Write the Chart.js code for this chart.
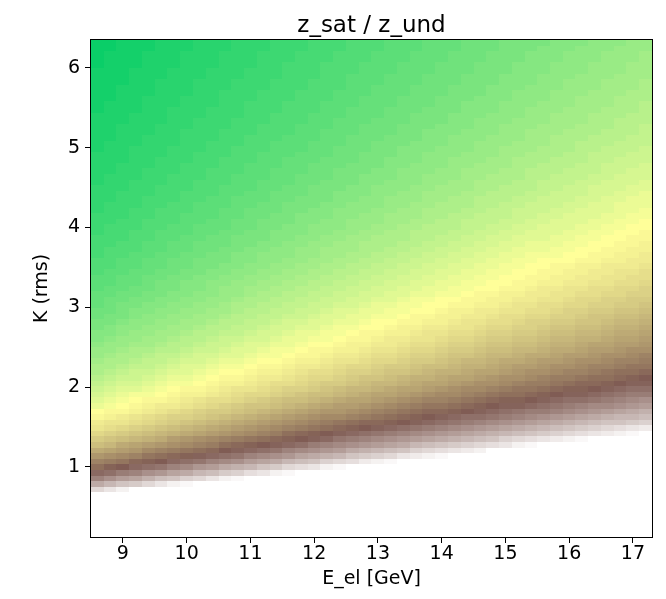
<!DOCTYPE html>
<html>
<head>
<meta charset="utf-8">
<script src="https://cdn.jsdelivr.net/npm/chart.js@4.4.1/dist/chart.umd.min.js"></script>
<style>
  html, body { margin: 0; padding: 0; background: #fff; }
</style>
</head>
<body>
<canvas id="heat" width="666" height="599"></canvas>
<script>
// column centres, electron energy [GeV]
const eEl = [8.6, 8.8, 9.0, 9.2, 9.4, 9.6, 9.8, 10.0, 10.2, 10.4, 10.6, 10.8, 11.0, 11.2, 11.4,
  11.6, 11.8, 12.0, 12.2, 12.4, 12.6, 12.8, 13.0, 13.2, 13.4, 13.6, 13.8, 14.0, 14.2, 14.4,
  14.6, 14.8, 15.0, 15.2, 15.4, 15.6, 15.8, 16.0, 16.2, 16.4, 16.6, 16.8, 17.0, 17.2];

// row centres, K (rms)
const kRms = [0.155, 0.225, 0.295, 0.365, 0.435, 0.505, 0.575, 0.645, 0.715, 0.785,
  0.855, 0.925, 0.995, 1.065, 1.135, 1.205, 1.275, 1.345, 1.415, 1.485,
  1.555, 1.625, 1.695, 1.765, 1.835, 1.905, 1.975, 2.045, 2.115, 2.185,
  2.255, 2.325, 2.395, 2.465, 2.535, 2.605, 2.675, 2.745, 2.815, 2.885,
  2.955, 3.025, 3.095, 3.165, 3.235, 3.305, 3.375, 3.445, 3.515, 3.585,
  3.655, 3.725, 3.795, 3.865, 3.935, 4.005, 4.075, 4.145, 4.215, 4.285,
  4.355, 4.425, 4.495, 4.565, 4.635, 4.705, 4.775, 4.845, 4.915, 4.985,
  5.055, 5.125, 5.195, 5.265, 5.335, 5.405, 5.475, 5.545, 5.615, 5.685,
  5.755, 5.825, 5.895, 5.965, 6.035, 6.105, 6.175, 6.245, 6.315];

const xTicks = [9, 10, 11, 12, 13, 14, 15, 16, 17];
const yTicks = [1, 2, 3, 4, 5, 6];

// z_sat / z_und in percent, one row per K (bottom row first), left to right in E_el.
// a row ends where the beam does not saturate inside the undulator (left blank)
const zRatioPct = [
  [], [], [], [], [], [], [], [],
  [94,96,98],
  [87,89,91,92,94,96,98,99],
  [81,83,85,86,88,90,91,93,94,96,98,99],
  [77,78,80,81,83,84,86,87,89,90,92,93,95,96,98,99],
  [72,74,75,77,78,79,81,82,84,85,87,88,89,91,92,94,95,96,98,99],
  [69,70,71,73,74,75,77,78,79,81,82,83,85,86,87,89,90,91,93,94,95,97,98,99],
  [66,67,68,69,71,72,73,74,76,77,78,79,81,82,83,84,86,87,88,89,91,92,93,94,96,97,98,99],
  [63,64,65,66,68,69,70,71,72,73,75,76,77,78,79,81,82,83,84,85,87,88,89,90,91,93,94,95,96,97,98],
  [60,61,63,64,65,66,67,68,69,70,72,73,74,75,76,77,78,80,81,82,83,84,85,86,87,89,90,91,92,93,94,95,96,98,99],
  [58,59,60,61,62,63,65,66,67,68,69,70,71,72,73,74,75,76,77,79,80,81,82,83,84,85,86,87,88,89,90,91,93,94,95,96,97,98,99],
  [56,57,58,59,60,61,62,63,64,65,66,67,68,69,70,72,73,74,75,76,77,78,79,80,81,82,83,84,85,86,87,88,89,90,91,92,93,94,95,96,97,98,99],
  [54,55,56,57,58,59,60,61,62,63,64,65,66,67,68,69,70,71,72,73,74,75,76,77,78,79,80,81,82,83,84,85,86,87,88,89,90,91,92,93,94,95,96,97],
  [53,54,54,55,56,57,58,59,60,61,62,63,64,65,66,67,68,69,70,71,72,73,73,74,75,76,77,78,79,80,81,82,83,84,85,86,87,88,89,90,91,91,92,93],
  [51,52,53,54,55,56,57,57,58,59,60,61,62,63,64,65,66,67,68,68,69,70,71,72,73,74,75,76,77,78,78,79,80,81,82,83,84,85,86,87,88,89,89,90],
  [50,51,51,52,53,54,55,56,57,58,58,59,60,61,62,63,64,65,66,66,67,68,69,70,71,72,73,73,74,75,76,77,78,79,80,80,81,82,83,84,85,86,87,88],
  [48,49,50,51,52,53,53,54,55,56,57,58,59,59,60,61,62,63,64,65,65,66,67,68,69,70,71,71,72,73,74,75,76,76,77,78,79,80,81,82,82,83,84,85],
  [47,48,49,50,51,51,52,53,54,55,55,56,57,58,59,60,60,61,62,63,64,64,65,66,67,68,69,69,70,71,72,73,74,74,75,76,77,78,78,79,80,81,82,83],
  [46,47,48,49,49,50,51,52,52,53,54,55,56,56,57,58,59,60,60,61,62,63,64,64,65,66,67,68,68,69,70,71,72,72,73,74,75,76,76,77,78,79,80,80],
  [45,46,47,47,48,49,50,51,51,52,53,54,54,55,56,57,57,58,59,60,61,61,62,63,64,64,65,66,67,68,68,69,70,71,71,72,73,74,74,75,76,77,78,78],
  [44,45,46,46,47,48,49,49,50,51,52,52,53,54,55,55,56,57,58,58,59,60,61,61,62,63,64,64,65,66,67,67,68,69,70,70,71,72,73,73,74,75,76,76],
  [43,44,45,45,46,47,48,48,49,50,51,51,52,53,53,54,55,56,56,57,58,59,59,60,61,62,62,63,64,64,65,66,67,67,68,69,70,70,71,72,72,73,74,75],
  [42,43,44,45,45,46,47,47,48,49,50,50,51,52,52,53,54,55,55,56,57,57,58,59,59,60,61,62,62,63,64,64,65,66,67,67,68,69,69,70,71,72,72,73],
  [42,42,43,44,44,45,46,47,47,48,49,49,50,51,51,52,53,53,54,55,56,56,57,58,58,59,60,60,61,62,62,63,64,65,65,66,67,67,68,69,69,70,71,71],
  [41,42,42,43,44,44,45,46,46,47,48,48,49,50,50,51,52,52,53,54,54,55,56,56,57,58,58,59,60,61,61,62,63,63,64,65,65,66,67,67,68,69,69,70],
  [40,41,42,42,43,44,44,45,46,46,47,47,48,49,49,50,51,51,52,53,53,54,55,55,56,57,57,58,59,59,60,61,61,62,63,63,64,65,65,66,67,67,68,69],
  [40,40,41,42,42,43,43,44,45,45,46,47,47,48,49,49,50,51,51,52,52,53,54,54,55,56,56,57,58,58,59,60,60,61,61,62,63,63,64,65,65,66,67,67],
  [39,40,40,41,41,42,43,43,44,45,45,46,47,47,48,48,49,50,50,51,52,52,53,53,54,55,55,56,57,57,58,59,59,60,60,61,62,62,63,64,64,65,65,66],
  [38,39,40,40,41,41,42,43,43,44,45,45,46,46,47,48,48,49,49,50,51,51,52,53,53,54,54,55,56,56,57,58,58,59,59,60,61,61,62,62,63,64,64,65],
  [38,38,39,40,40,41,41,42,43,43,44,44,45,46,46,47,48,48,49,49,50,51,51,52,52,53,54,54,55,55,56,57,57,58,58,59,60,60,61,61,62,63,63,64],
  [37,38,39,39,40,40,41,41,42,43,43,44,44,45,46,46,47,47,48,49,49,50,50,51,52,52,53,53,54,54,55,56,56,57,57,58,59,59,60,60,61,62,62,63],
  [37,37,38,39,39,40,40,41,41,42,43,43,44,44,45,46,46,47,47,48,48,49,50,50,51,51,52,52,53,54,54,55,55,56,57,57,58,58,59,59,60,61,61,62],
  [36,37,37,38,39,39,40,40,41,41,42,43,43,44,44,45,45,46,47,47,48,48,49,49,50,51,51,52,52,53,53,54,55,55,56,56,57,57,58,59,59,60,60,61],
  [36,36,37,38,38,39,39,40,40,41,41,42,43,43,44,44,45,45,46,47,47,48,48,49,49,50,50,51,52,52,53,53,54,54,55,55,56,57,57,58,58,59,59,60],
  [35,36,37,37,38,38,39,39,40,40,41,42,42,43,43,44,44,45,45,46,46,47,48,48,49,49,50,50,51,51,52,52,53,54,54,55,55,56,56,57,57,58,58,59],
  [35,36,36,37,37,38,38,39,39,40,40,41,42,42,43,43,44,44,45,45,46,46,47,47,48,49,49,50,50,51,51,52,52,53,53,54,54,55,56,56,57,57,58,58],
  [35,35,36,36,37,37,38,38,39,39,40,40,41,42,42,43,43,44,44,45,45,46,46,47,47,48,48,49,49,50,51,51,52,52,53,53,54,54,55,55,56,56,57,57],
  [34,35,35,36,36,37,37,38,38,39,40,40,41,41,42,42,43,43,44,44,45,45,46,46,47,47,48,48,49,49,50,50,51,51,52,53,53,54,54,55,55,56,56,57],
  [34,34,35,35,36,37,37,38,38,39,39,40,40,41,41,42,42,43,43,44,44,45,45,46,46,47,47,48,48,49,49,50,50,51,51,52,52,53,53,54,54,55,55,56],
  [34,34,35,35,36,36,37,37,38,38,39,39,40,40,41,41,42,42,43,43,44,44,45,45,46,46,47,47,48,48,49,49,50,50,51,51,52,52,53,53,54,54,55,55],
  [33,34,34,35,35,36,36,37,37,38,38,39,39,40,40,41,41,42,42,43,43,44,44,45,45,46,46,47,47,48,48,49,49,50,50,51,51,52,52,53,53,54,54,55],
  [33,33,34,34,35,35,36,36,37,37,38,38,39,39,40,40,41,41,42,42,43,43,44,44,45,45,46,46,47,47,48,48,49,49,50,50,51,51,52,52,53,53,53,54],
  [33,33,34,34,35,35,36,36,37,37,37,38,38,39,39,40,40,41,41,42,42,43,43,44,44,45,45,46,46,47,47,48,48,49,49,50,50,50,51,51,52,52,53,53],
  [32,33,33,34,34,35,35,36,36,37,37,38,38,39,39,39,40,40,41,41,42,42,43,43,44,44,45,45,46,46,47,47,48,48,49,49,49,50,50,51,51,52,52,53],
  [32,33,33,33,34,34,35,35,36,36,37,37,38,38,39,39,40,40,41,41,41,42,42,43,43,44,44,45,45,46,46,47,47,48,48,48,49,49,50,50,51,51,52,52],
  [32,32,33,33,34,34,35,35,36,36,36,37,37,38,38,39,39,40,40,41,41,42,42,42,43,43,44,44,45,45,46,46,47,47,48,48,48,49,49,50,50,51,51,52],
  [32,32,32,33,33,34,34,35,35,36,36,37,37,37,38,38,39,39,40,40,41,41,42,42,42,43,43,44,44,45,45,46,46,47,47,47,48,48,49,49,50,50,51,51],
  [31,32,32,33,33,34,34,34,35,35,36,36,37,37,38,38,38,39,39,40,40,41,41,42,42,43,43,43,44,44,45,45,46,46,47,47,47,48,48,49,49,50,50,51],
  [31,32,32,32,33,33,34,34,35,35,35,36,36,37,37,38,38,39,39,39,40,40,41,41,42,42,43,43,43,44,44,45,45,46,46,47,47,47,48,48,49,49,50,50],
  [31,31,32,32,33,33,33,34,34,35,35,36,36,37,37,37,38,38,39,39,40,40,40,41,41,42,42,43,43,44,44,44,45,45,46,46,47,47,47,48,48,49,49,50],
  [31,31,31,32,32,33,33,34,34,34,35,35,36,36,37,37,38,38,38,39,39,40,40,41,41,41,42,42,43,43,44,44,44,45,45,46,46,47,47,47,48,48,49,49],
  [30,31,31,32,32,33,33,33,34,34,35,35,36,36,36,37,37,38,38,39,39,39,40,40,41,41,42,42,42,43,43,44,44,45,45,45,46,46,47,47,47,48,48,49],
  [30,31,31,31,32,32,33,33,34,34,34,35,35,36,36,37,37,37,38,38,39,39,39,40,40,41,41,42,42,42,43,43,44,44,45,45,45,46,46,47,47,48,48,48],
  [30,30,31,31,32,32,32,33,33,34,34,35,35,35,36,36,37,37,37,38,38,39,39,40,40,40,41,41,42,42,43,43,43,44,44,45,45,45,46,46,47,47,48,48],
  [30,30,31,31,31,32,32,33,33,33,34,34,35,35,36,36,36,37,37,38,38,38,39,39,40,40,41,41,41,42,42,43,43,43,44,44,45,45,45,46,46,47,47,48],
  [30,30,30,31,31,32,32,32,33,33,34,34,34,35,35,36,36,37,37,37,38,38,39,39,39,40,40,41,41,41,42,42,43,43,43,44,44,45,45,46,46,46,47,47],
  [29,30,30,31,31,31,32,32,33,33,33,34,34,35,35,35,36,36,37,37,37,38,38,39,39,39,40,40,41,41,42,42,42,43,43,44,44,44,45,45,46,46,46,47],
  [29,30,30,30,31,31,32,32,32,33,33,34,34,34,35,35,36,36,36,37,37,38,38,38,39,39,40,40,40,41,41,42,42,42,43,43,44,44,44,45,45,46,46,46],
  [29,29,30,30,31,31,31,32,32,33,33,33,34,34,35,35,35,36,36,37,37,37,38,38,39,39,39,40,40,41,41,41,42,42,43,43,43,44,44,44,45,45,46,46],
  [29,29,30,30,30,31,31,32,32,32,33,33,34,34,34,35,35,36,36,36,37,37,37,38,38,39,39,39,40,40,41,41,41,42,42,43,43,43,44,44,45,45,45,46],
  [29,29,29,30,30,31,31,31,32,32,33,33,33,34,34,35,35,35,36,36,36,37,37,38,38,38,39,39,40,40,40,41,41,42,42,42,43,43,43,44,44,45,45,45],
  [29,29,29,30,30,30,31,31,32,32,32,33,33,34,34,34,35,35,35,36,36,37,37,37,38,38,39,39,39,40,40,40,41,41,42,42,42,43,43,44,44,44,45,45],
  [28,29,29,30,30,30,31,31,31,32,32,33,33,33,34,34,34,35,35,36,36,36,37,37,38,38,38,39,39,39,40,40,41,41,41,42,42,42,43,43,44,44,44,45],
  [28,29,29,29,30,30,30,31,31,32,32,32,33,33,34,34,34,35,35,35,36,36,37,37,37,38,38,38,39,39,40,40,40,41,41,41,42,42,43,43,43,44,44,44],
  [28,28,29,29,30,30,30,31,31,31,32,32,33,33,33,34,34,34,35,35,36,36,36,37,37,37,38,38,39,39,39,40,40,40,41,41,42,42,42,43,43,43,44,44],
  [28,28,29,29,29,30,30,31,31,31,32,32,32,33,33,33,34,34,35,35,35,36,36,36,37,37,38,38,38,39,39,39,40,40,41,41,41,42,42,42,43,43,43,44],
  [28,28,29,29,29,30,30,30,31,31,31,32,32,33,33,33,34,34,34,35,35,36,36,36,37,37,37,38,38,38,39,39,40,40,40,41,41,41,42,42,42,43,43,44],
  [28,28,28,29,29,29,30,30,31,31,31,32,32,32,33,33,33,34,34,35,35,35,36,36,36,37,37,37,38,38,39,39,39,40,40,40,41,41,41,42,42,43,43,43],
  [28,28,28,29,29,29,30,30,30,31,31,31,32,32,33,33,33,34,34,34,35,35,35,36,36,37,37,37,38,38,38,39,39,39,40,40,41,41,41,42,42,42,43,43],
  [27,28,28,28,29,29,30,30,30,31,31,31,32,32,32,33,33,33,34,34,35,35,35,36,36,36,37,37,37,38,38,38,39,39,40,40,40,41,41,41,42,42,42,43],
  [27,28,28,28,29,29,29,30,30,30,31,31,32,32,32,33,33,33,34,34,34,35,35,35,36,36,36,37,37,38,38,38,39,39,39,40,40,40,41,41,41,42,42,43],
  [27,27,28,28,29,29,29,30,30,30,31,31,31,32,32,32,33,33,33,34,34,35,35,35,36,36,36,37,37,37,38,38,38,39,39,39,40,40,41,41,41,42,42,42],
  [27,27,28,28,28,29,29,29,30,30,31,31,31,32,32,32,33,33,33,34,34,34,35,35,35,36,36,36,37,37,37,38,38,39,39,39,40,40,40,41,41,41,42,42],
  [27,27,28,28,28,29,29,29,30,30,30,31,31,31,32,32,32,33,33,33,34,34,35,35,35,36,36,36,37,37,37,38,38,38,39,39,39,40,40,40,41,41,41,42],
  [27,27,27,28,28,29,29,29,30,30,30,31,31,31,32,32,32,33,33,33,34,34,34,35,35,35,36,36,36,37,37,37,38,38,38,39,39,40,40,40,41,41,41,42],
  [27,27,27,28,28,28,29,29,29,30,30,30,31,31,31,32,32,32,33,33,34,34,34,35,35,35,36,36,36,37,37,37,38,38,38,39,39,39,40,40,40,41,41,41],
  [27,27,27,28,28,28,29,29,29,30,30,30,31,31,31,32,32,32,33,33,33,34,34,34,35,35,35,36,36,36,37,37,37,38,38,38,39,39,39,40,40,40,41,41],
  [26,27,27,27,28,28,28,29,29,29,30,30,30,31,31,32,32,32,33,33,33,34,34,34,35,35,35,36,36,36,37,37,37,38,38,38,39,39,39,40,40,40,41,41],
  [26,27,27,27,28,28,28,29,29,29,30,30,30,31,31,31,32,32,32,33,33,33,34,34,34,35,35,35,36,36,36,37,37,37,38,38,38,39,39,39,40,40,40,41],
  [26,27,27,27,28,28,28,29,29,29,30,30,30,31,31,31,32,32,32,33,33,33,34,34,34,35,35,35,36,36,36,37,37,37,38,38,38,39,39,39,40,40,40,41],
  [26,26,27,27,27,28,28,28,29,29,29,30,30,30,31,31,31,32,32,32,33,33,33,34,34,34,35,35,35,36,36,36,37,37,37,38,38,38,39,39,39,40,40,40],
  [26,26,27,27,27,28,28,28,29,29,29,30,30,30,31,31,31,32,32,32,33,33,33,34,34,34,35,35,35,36,36,36,37,37,37,37,38,38,38,39,39,39,40,40]
];

// matplotlib "terrain" colour map
const terrainStops = [
  [0.00, [51, 51, 153]],
  [0.15, [0, 153, 255]],
  [0.25, [0, 204, 102]],
  [0.50, [255, 255, 153]],
  [0.75, [128, 92, 84]],
  [1.00, [255, 255, 255]]
];

function terrain(v) {
  v = Math.max(0, Math.min(1, v));
  for (let i = 1; i < terrainStops.length; i++) {
    const [p1, c1] = terrainStops[i];
    const [p0, c0] = terrainStops[i - 1];
    if (v <= p1) {
      const f = (v - p0) / (p1 - p0);
      const c = c0.map((a, k) => Math.round(a + (c1[k] - a) * f));
      return 'rgb(' + c.join(',') + ')';
    }
  }
  return '#fff';
}

// one point per cell
const cells = [];
zRatioPct.forEach((row, j) => {
  row.forEach((p, i) => {
    cells.push({ x: eEl[i], y: kRms[j], v: p / 100 });
  });
});

const halfX = (eEl[1] - eEl[0]) / 2;
const halfY = (kRms[1] - kRms[0]) / 2;

const meshPlugin = {
  id: 'mesh',
  beforeDatasetsDraw(chart) {
    const { ctx, chartArea, scales: { x, y } } = chart;
    ctx.save();
    ctx.beginPath();
    ctx.rect(chartArea.left, chartArea.top, chartArea.right - chartArea.left, chartArea.bottom - chartArea.top);
    ctx.clip();
    chart.data.datasets[0].data.forEach(c => {
      const l = Math.round(x.getPixelForValue(c.x - halfX));
      const r = Math.round(x.getPixelForValue(c.x + halfX));
      const t = Math.round(y.getPixelForValue(c.y + halfY));
      const b = Math.round(y.getPixelForValue(c.y - halfY));
      ctx.fillStyle = terrain(c.v);
      ctx.fillRect(l, t, r - l, b - t);
    });
    ctx.restore();
  },
  afterDraw(chart) {
    const { ctx, chartArea: a } = chart;
    ctx.save();
    ctx.strokeStyle = '#000';
    ctx.lineWidth = 1;
    ctx.strokeRect(Math.round(a.left) - 0.5, Math.round(a.top) - 0.5,
      Math.round(a.right - a.left) + 1, Math.round(a.bottom - a.top) + 1);
    // title, centred over the axes like matplotlib does
    ctx.fillStyle = '#000';
    ctx.font = '23px "DejaVu Sans"';
    ctx.textAlign = 'center';
    ctx.textBaseline = 'alphabetic';
    ctx.fillText('z_sat / z_und', (a.left + a.right) / 2, 32);
    ctx.restore();
  }
};

const font = { family: 'DejaVu Sans', size: 19 };

new Chart(document.getElementById('heat'), {
  type: 'scatter',
  data: { datasets: [{ data: cells, pointRadius: 0, pointHoverRadius: 0 }] },
  options: {
    responsive: false,
    animation: false,
    events: [],
    layout: { padding: { left: 0, right: 14, top: 40, bottom: 0 } },
    plugins: {
      legend: { display: false },
      tooltip: { enabled: false },
      title: { display: false }
    },
    scales: {
      x: {
        type: 'linear', min: 8.5, max: 17.3,
        afterBuildTicks: s => { s.ticks = xTicks.map(v => ({ value: v })); },
        afterFit: s => { s.height = 62; },
        grid: { drawOnChartArea: false, drawTicks: true, tickLength: 6, tickColor: '#000', lineWidth: 1 },
        border: { display: false },
        ticks: { color: '#000', font, padding: 0, maxRotation: 0, autoSkip: false },
        title: { display: true, text: 'E_el [GeV]', color: '#000', font, padding: { top: 0, bottom: 9 } }
      },
      y: {
        type: 'linear', min: 0.12, max: 6.35,
        afterBuildTicks: s => { s.ticks = yTicks.map(v => ({ value: v })); },
        afterFit: s => { s.width = 91; },
        grid: { drawOnChartArea: false, drawTicks: true, tickLength: 6, tickColor: '#000', lineWidth: 1 },
        border: { display: false },
        ticks: { color: '#000', font, padding: 5, autoSkip: false },
        title: { display: true, text: 'K (rms)', color: '#000', font, padding: { top: 31, bottom: 0 } }
      }
    }
  },
  plugins: [meshPlugin]
});
</script>
</body>
</html>
